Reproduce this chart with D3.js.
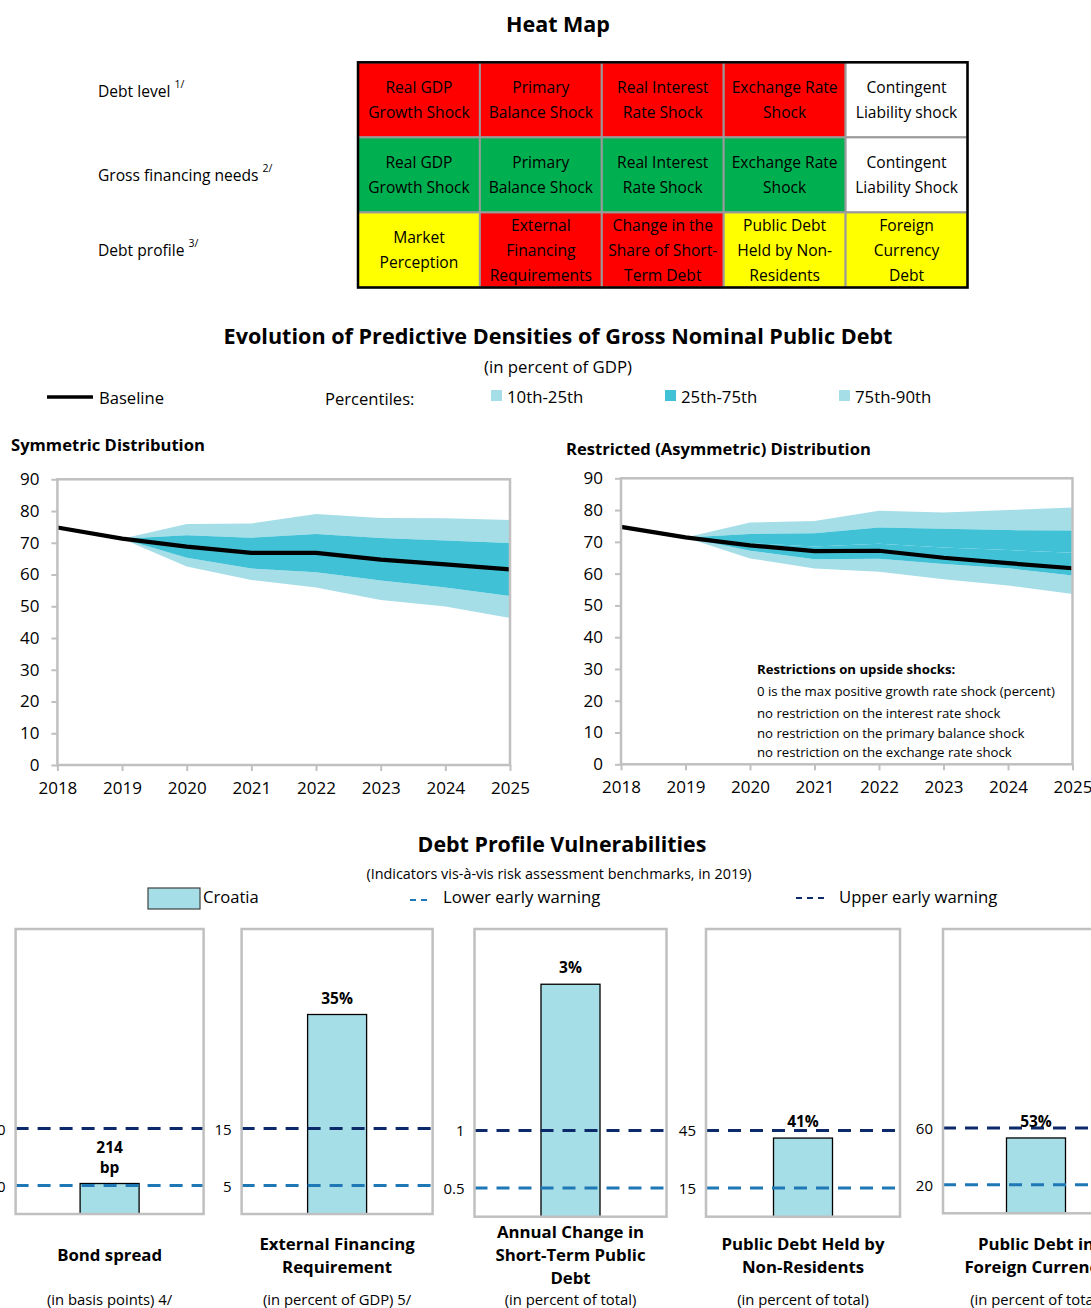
<!DOCTYPE html>
<html>
<head>
<meta charset="utf-8">
<script src="https://cdn.jsdelivr.net/npm/d3@7"></script>
<style>
  body { margin: 0; background: #fff; }
  svg { font-family: "Open Sans", sans-serif; }
  text { fill: #000; }
</style>
</head>
<body>
<script>
// ---- heat map data ----
const heatRows = ["Debt level", "Gross financing needs", "Debt profile"];
const heatNotes = ["1/", "2/", "3/"];
const heatCells = [
  ["Real GDP|Growth Shock", "Primary|Balance Shock", "Real Interest|Rate Shock", "Exchange Rate|Shock", "Contingent|Liability shock"],
  ["Real GDP|Growth Shock", "Primary|Balance Shock", "Real Interest|Rate Shock", "Exchange Rate|Shock", "Contingent|Liability Shock"],
  ["Market|Perception", "External|Financing|Requirements", "Change in the|Share of Short-|Term Debt", "Public Debt|Held by Non-|Residents", "Foreign|Currency|Debt"]
];
const heatLevels = [
  ["high", "high", "high", "high", "none"],
  ["low", "low", "low", "low", "none"],
  ["medium", "high", "high", "medium", "medium"]
];

// ---- fan chart data ----
const years = [2018, 2019, 2020, 2021, 2022, 2023, 2024, 2025];
const bandYears = [2019, 2020, 2021, 2022, 2023, 2024, 2025];

const symBaseline = [74.8, 71.3, 68.8, 66.8, 66.8, 64.7, 63.2, 61.6];
const symP10 = [71.3, 62.5, 58.3, 55.9, 52.0, 49.9, 46.3];
const symP25 = [71.3, 65.3, 61.9, 60.7, 58.1, 55.9, 53.2];
const symP75 = [71.3, 72.4, 71.6, 72.8, 71.5, 70.7, 69.9];
const symP90 = [71.3, 75.9, 76.1, 79.1, 77.8, 77.7, 77.2];

const asymBaseline = [74.7, 71.4, 68.9, 67.1, 67.2, 65.0, 63.3, 61.7];
const asymP10 = [71.4, 64.8, 61.6, 60.6, 58.2, 56.3, 53.6];
const asymP25 = [71.4, 67.2, 64.5, 64.7, 63.0, 61.7, 59.4];
const asymP50 = [71.4, 69.6, 68.5, 69.4, 68.2, 67.4, 66.6];
const asymP75 = [71.4, 72.5, 72.7, 74.5, 74.1, 73.7, 73.6];
const asymP90 = [71.4, 76.1, 76.6, 79.8, 79.2, 80.0, 80.8];

const percentileLabels = ["10th-25th", "25th-75th", "75th-90th"];
const restrictionNotes = [
  "0 is the max positive growth rate shock (percent)",
  "no restriction on the interest rate shock",
  "no restriction on the primary balance shock",
  "no restriction on the exchange rate shock"
];

// ---- debt profile data ----
const indicators = ["Bond spread", "External Financing Requirement", "Annual Change in Short-Term Public Debt", "Public Debt Held by Non-Residents", "Public Debt in Foreign Currency"];
const indicatorTitles = [["Bond spread"], ["External Financing", "Requirement"], ["Annual Change in", "Short-Term Public", "Debt"], ["Public Debt Held by", "Non-Residents"], ["Public Debt in", "Foreign Currency"]];
const indicatorUnits = ["(in basis points) 4/", "(in percent of GDP) 5/", "(in percent of total)", "(in percent of total)", "(in percent of total)"];
const croatiaValues = [214, 35, 2.27, 41, 53];
const croatiaLabels = [["214", "bp"], ["35%"], ["3%"], ["41%"], ["53%"]];
const lowerWarning = [200, 5, 0.5, 15, 20];
const upperWarning = [600, 15, 1, 45, 60];
const axisRanges = [[0, 2000], [0, 50], [0.25, 2.75], [0, 150], [0, 200]];

// ---- styles / layout ----
const heatFill = { high: "#ff0000", medium: "#ffff00", low: "#00b050", none: "#ffffff" };
const lightBand = "#a6dee8";
const darkBand = "#40c1d6";
const frameGrey = "#c0c0c0";
const upperColor = "#0c2a6a";
const lowerColor = "#1f78b6";

const panelLeft = [15.6, 241.6, 474.5, 706, 943];
const panelWidth = [188, 191, 192, 194, 186];
const panelBottom = [1214, 1214, 1216.7, 1216.7, 1213.3];
const panelTop = 929, barW = 59;

const W = 1091, H = 1308;
const svg = d3.select("body").append("svg").attr("width", W).attr("height", H);

function title(txt, x, y, size, weight, anchor) {
  return svg.append("text").attr("x", x).attr("y", y)
    .attr("font-size", size).attr("font-weight", weight || "normal")
    .attr("text-anchor", anchor || "middle").attr("dominant-baseline", "central")
    .text(txt);
}

/* ================= Heat map ================= */
title("Heat Map", 558, 23, 21.5, "bold");

const colX = d3.scaleBand().domain(d3.range(5)).range([358, 967.5]);
const rowY = d3.scaleBand().domain(heatRows).range([62.3, 287.5]);
const labelShift = [-9, 0, 0];

heatRows.forEach((row, r) => {
  const lbl = svg.append("text")
    .attr("x", 98).attr("y", rowY(row) + rowY.bandwidth() / 2 + labelShift[r])
    .attr("font-size", 15.6).attr("dominant-baseline", "central");
  lbl.append("tspan").text(row + " ");
  lbl.append("tspan").attr("font-size", 10.5).attr("dy", -7).text(heatNotes[r]);

  const cells = svg.append("g").selectAll("g")
    .data(heatCells[r]).enter().append("g");
  cells.append("rect")
    .attr("x", (d, c) => colX(c))
    .attr("y", rowY(row))
    .attr("width", colX.bandwidth())
    .attr("height", rowY.bandwidth())
    .attr("fill", (d, c) => heatFill[heatLevels[r][c]])
    .attr("stroke", "#9a9a9a")
    .attr("stroke-width", 2);
  cells.each(function (d, c) {
    const lines = d.split("|");
    const cy = rowY(row) + rowY.bandwidth() / 2;
    d3.select(this).selectAll("text").data(lines).enter().append("text")
      .attr("x", colX(c) + colX.bandwidth() / 2)
      .attr("y", (t, i) => cy + (i - (lines.length - 1) / 2) * 25)
      .attr("text-anchor", "middle")
      .attr("dominant-baseline", "central")
      .attr("font-size", 15.6)
      .text(t => t);
  });
});
svg.append("rect")
  .attr("x", colX.range()[0]).attr("y", rowY.range()[0])
  .attr("width", colX.range()[1] - colX.range()[0])
  .attr("height", rowY.range()[1] - rowY.range()[0])
  .attr("fill", "none").attr("stroke", "#000").attr("stroke-width", 2.5);

/* ================= Fan charts ================= */
title("Evolution of Predictive Densities of Gross Nominal Public Debt", 558, 335, 21.6, "bold");
title("(in percent of GDP)", 558, 366, 16.8);

// legend
svg.append("line").attr("x1", 47).attr("x2", 93).attr("y1", 397).attr("y2", 397)
  .attr("stroke", "#000").attr("stroke-width", 3.5);
title("Baseline", 99, 397, 16.6, "normal", "start");
title("Percentiles:", 325, 398, 16.6, "normal", "start");
const legX = [491, 665, 839];
const legColors = [lightBand, darkBand, lightBand];
percentileLabels.forEach((p, i) => {
  svg.append("rect").attr("x", legX[i]).attr("y", 390).attr("width", 11).attr("height", 11)
    .attr("fill", legColors[i]);
  title(p, legX[i] + 16, 396, 16.8, "normal", "start");
});

function fanChart(cfg) {
  const x = d3.scaleLinear().domain([2018, 2025]).range([cfg.x0, cfg.x1]);
  const y = d3.scaleLinear().domain([0, 90]).range([cfg.y1, cfg.y0]);
  const g = svg.append("g");

  const area = (lo, hi) => d3.area()
    .x((d, i) => x(bandYears[i]))
    .y0((d, i) => y(lo[i]))
    .y1((d, i) => y(hi[i]))(bandYears);

  cfg.bands.forEach(b => {
    g.append("path").attr("d", area(b.lo, b.hi)).attr("fill", b.color);
  });

  g.append("path")
    .attr("d", d3.line().x((d, i) => x(years[i])).y(d => y(d))(cfg.baseline))
    .attr("fill", "none").attr("stroke", "#000").attr("stroke-width", 4.2);

  // frame
  g.append("rect").attr("x", cfg.x0).attr("y", cfg.y0)
    .attr("width", cfg.x1 - cfg.x0).attr("height", cfg.y1 - cfg.y0)
    .attr("fill", "none").attr("stroke", frameGrey).attr("stroke-width", 2.5);

  const yAxis = g.append("g").attr("transform", `translate(${cfg.x0},0)`)
    .call(d3.axisLeft(y).tickValues(d3.range(0, 91, 10)).tickSize(6).tickPadding(12));
  const xAxis = g.append("g").attr("transform", `translate(0,${cfg.y1})`)
    .call(d3.axisBottom(x).tickValues(years).tickFormat(d3.format("d")).tickSize(6).tickPadding(11));
  [yAxis, xAxis].forEach(a => {
    a.select(".domain").remove();
    a.selectAll(".tick line").attr("stroke", frameGrey).attr("stroke-width", 2);
    a.selectAll(".tick text").attr("font-size", 17).attr("font-family", "'Open Sans', sans-serif").attr("fill", "#000");
  });

  title(cfg.title, cfg.titleX, cfg.titleY, 16.6, "bold", "start");
  return { x, y, g };
}

fanChart({
  x0: 57.4, x1: 510, y0: 479.3, y1: 765,
  baseline: symBaseline,
  bands: [
    { lo: symP10, hi: symP25, color: lightBand },
    { lo: symP75, hi: symP90, color: lightBand },
    { lo: symP25, hi: symP75, color: darkBand }
  ],
  title: "Symmetric Distribution", titleX: 11, titleY: 444
});

fanChart({
  x0: 621, x1: 1072.5, y0: 478.3, y1: 764.3,
  baseline: asymBaseline,
  bands: [
    { lo: asymP10, hi: asymP25, color: lightBand },
    { lo: asymP75, hi: asymP90, color: lightBand },
    { lo: asymP25, hi: asymP50, color: darkBand },
    { lo: asymP50, hi: asymP75, color: darkBand }
  ],
  title: "Restricted (Asymmetric) Distribution", titleX: 566, titleY: 448
});

title("Restrictions on upside shocks:", 757, 669, 13.2, "bold", "start");
const noteY = [691, 713, 733, 752];
restrictionNotes.forEach((n, i) => title(n, 757, noteY[i], 13.2, "normal", "start"));

/* ================= Debt profile vulnerabilities ================= */
title("Debt Profile Vulnerabilities", 562, 843, 21.4, "bold");
title("(Indicators vis-à-vis risk assessment benchmarks, in 2019)", 559, 873, 14.4);

svg.append("rect").attr("x", 148).attr("y", 888).attr("width", 52).attr("height", 21)
  .attr("fill", lightBand).attr("stroke", "#404040").attr("stroke-width", 1.2);
title("Croatia", 203, 896, 16.6, "normal", "start");
svg.append("line").attr("x1", 410).attr("x2", 432).attr("y1", 900).attr("y2", 900)
  .attr("stroke", lowerColor).attr("stroke-width", 2).attr("stroke-dasharray", "6,5");
title("Lower early warning", 443, 896, 16.7, "normal", "start");
svg.append("line").attr("x1", 796).attr("x2", 829).attr("y1", 898).attr("y2", 898)
  .attr("stroke", upperColor).attr("stroke-width", 2).attr("stroke-dasharray", "6,5");
title("Upper early warning", 839, 896, 16.7, "normal", "start");

indicators.forEach((ind, i) => {
  const px = panelLeft[i], pw = panelWidth[i], pb = panelBottom[i];
  const y = d3.scaleLinear().domain(axisRanges[i]).range([pb, panelTop]);
  const g = svg.append("g");
  const cx = px + pw / 2;

  g.append("rect").attr("x", cx - barW / 2).attr("y", y(croatiaValues[i]))
    .attr("width", barW).attr("height", pb - y(croatiaValues[i]))
    .attr("fill", lightBand).attr("stroke", "#000").attr("stroke-width", 1.3);

  [[lowerWarning[i], lowerColor], [upperWarning[i], upperColor]].forEach(([v, col]) => {
    g.append("line").attr("x1", px).attr("x2", px + pw).attr("y1", y(v)).attr("y2", y(v))
      .attr("stroke", col).attr("stroke-width", 3).attr("stroke-dasharray", "13,9");
    g.append("text").attr("x", px - 10).attr("y", y(v)).attr("text-anchor", "end")
      .attr("dominant-baseline", "central").attr("font-size", 15).text(d3.format("")(v));
  });

  g.append("rect").attr("x", px).attr("y", panelTop).attr("width", pw)
    .attr("height", pb - panelTop)
    .attr("fill", "none").attr("stroke", frameGrey).attr("stroke-width", 2.5);

  const lab = croatiaLabels[i];
  lab.forEach((t, k) => {
    g.append("text").attr("x", cx)
      .attr("y", y(croatiaValues[i]) - 17 - (lab.length - 1 - k) * 20)
      .attr("text-anchor", "middle").attr("dominant-baseline", "central")
      .attr("font-size", 15.5).attr("font-weight", "bold").text(t);
  });

  const tl = indicatorTitles[i];
  tl.forEach((t, k) => {
    g.append("text").attr("x", cx).attr("y", 1254.5 + (k - (tl.length - 1) / 2) * 23)
      .attr("text-anchor", "middle").attr("dominant-baseline", "central")
      .attr("font-size", 16.8).attr("font-weight", "bold").text(t);
  });
  g.append("text").attr("x", cx).attr("y", 1299)
    .attr("text-anchor", "middle").attr("dominant-baseline", "central")
    .attr("font-size", 14.8).text(indicatorUnits[i]);
});
</script>
</body>
</html>
